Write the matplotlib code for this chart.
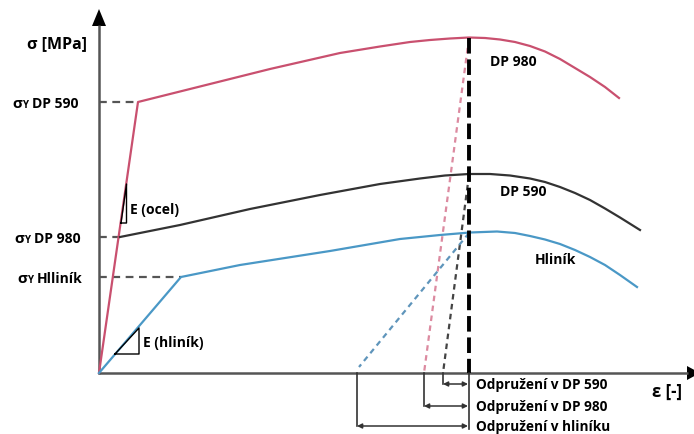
import matplotlib
matplotlib.use("Agg")
from matplotlib import pyplot as plt
import numpy as np

plt.rcParams['font.family'] = ['Open Sans', 'DejaVu Sans']

# schematic stress-strain curves, drawn in a pixel-like frame (y grows downward)
ORIGIN = (99, 374)

red_x = [99, 138, 200, 270, 340, 380, 410, 430, 450, 469, 485, 500, 515, 530, 545,
         560, 575, 590, 605, 619]
red_y = [374, 103, 87.5, 70, 54, 47.5, 43, 41, 39.5, 38.5, 39, 40.5, 43, 47, 52.5,
         60, 69, 78, 88, 99]

black_x = [120, 180, 250, 320, 380, 420, 445, 469, 490, 510, 530, 545, 560, 575,
           590, 605, 620, 640]
black_y = [238, 226, 210, 196, 185, 179.5, 176.5, 175, 175, 176.5, 179.5, 183, 188,
           194, 201, 209.5, 218.5, 231]

blue_x = [99, 181, 240, 330, 400, 440, 470, 497, 515, 530, 545, 560, 575, 590, 605,
          620, 637]
blue_y = [374, 278, 266, 252, 240, 236, 233.5, 232.5, 234, 237, 240.5, 245, 251,
          258, 266, 276, 288]

# unloading lines: (top x, top y, bottom x, bottom y)
unload_red = (469, 39, 424, 374)
unload_black = (469, 176, 443, 374)
unload_blue = (469, 234, 359, 368)

# yield levels on the stress axis
yield_levels = [103, 238, 278]
yield_ends = [138, 120, 181]
yield_names = ['DP 590', 'DP 980', 'Hlliník']
yield_label_x = [12, 14, 17]

# springback brackets
spring_x = [443, 424, 357]
spring_y = [385, 407, 427]
spring_text = ['Odpružení v DP 590', 'Odpružení v DP 980', 'Odpružení v hliníku']

fig = plt.figure(figsize=(6.94, 4.35), dpi=100)
ax = fig.add_axes([0, 0, 1, 1])
ax.set_xlim(0, 694)
ax.set_ylim(435, 0)
ax.axis('off')

axis_c = '#555555'
red_c = '#c9506f'
blk_c = '#333333'
blu_c = '#4a98c6'

# axes with arrows
ax.plot([ORIGIN[0], ORIGIN[0]], [ORIGIN[1] + 1, 26], color=axis_c, lw=1.8, solid_capstyle='butt')
ax.plot([ORIGIN[0] - 1, 688], [ORIGIN[1], ORIGIN[1]], color=axis_c, lw=1.8, solid_capstyle='butt')
ax.fill([92, 106, 99], [27, 27, 10], color='black', lw=0)
ax.fill([687, 687, 700], [367, 381, 374], color='black', lw=0)

# yield guides
for lvl, xe in zip(yield_levels, yield_ends):
    ax.plot([ORIGIN[0], xe], [lvl, lvl], color=axis_c, lw=1.6, dashes=(3.5, 2.5))

# curves
ax.plot(red_x, red_y, color=red_c, lw=1.6, solid_joinstyle='round')
ax.plot(black_x, black_y, color=blk_c, lw=1.6, solid_joinstyle='round')
ax.plot(blue_x, blue_y, color=blu_c, lw=1.6, solid_joinstyle='round')

# unloading
ax.plot(unload_red[::2], unload_red[1::2], color='#dc8aa0', lw=1.6, dashes=(2.5, 2))
ax.plot(unload_black[::2], unload_black[1::2], color='#444444', lw=1.6, dashes=(2.5, 2))
ax.plot(unload_blue[::2], unload_blue[1::2], color='#5f95bb', lw=1.6, dashes=(2.5, 2))
ax.plot([469, 469], [39, 374], color='black', lw=2.8, dashes=(4, 1.5))

# modulus triangles
ax.plot([121, 126.5, 126.5, 121], [224, 224, 185, 224], color='black', lw=1)
ax.plot([115, 139, 139, 115], [355, 355, 329, 355], color='black', lw=1)

# springback brackets
ax.plot([469, 469], [374, 430], color='#333333', lw=1.2)
for sx, sy, txt in zip(spring_x, spring_y, spring_text):
    ax.plot([sx, sx], [374, sy], color='#333333', lw=1.2)
    ax.annotate('', xy=(468, sy), xytext=(sx, sy),
                arrowprops=dict(arrowstyle='<|-|>', color='#333333', lw=1.1,
                                mutation_scale=7, shrinkA=0, shrinkB=0))
    ax.text(476, sy, txt, fontsize=9.8, fontweight='bold', ha='left', va='center')

# texts
bold = dict(fontweight='bold', va='center', color='black')
ax.text(27, 44, 'σ [MPa]', fontsize=11.5, ha='left', **bold)
ax.text(652, 392, 'ε [-]', fontsize=12, ha='left', **bold)
for lvl, name, lx in zip(yield_levels, yield_names, yield_label_x):
    ax.text(lx, lvl + 1, 'σ', fontsize=11, ha='left', **bold)
    ax.text(lx + 10.5, lvl + 3, 'Y', fontsize=7, ha='left', **bold)
    ax.text(lx + 20, lvl + 1, name, fontsize=10, ha='left', **bold)

ax.text(130, 210, 'E (ocel)', fontsize=10, ha='left', **bold)
ax.text(143, 343, 'E (hliník)', fontsize=10, ha='left', **bold)
ax.text(490, 62, 'DP 980', fontsize=10, ha='left', **bold)
ax.text(500, 192, 'DP 590', fontsize=10, ha='left', **bold)
ax.text(535, 260, 'Hliník', fontsize=10, ha='left', **bold)

fig.savefig('out.png', dpi=100)
